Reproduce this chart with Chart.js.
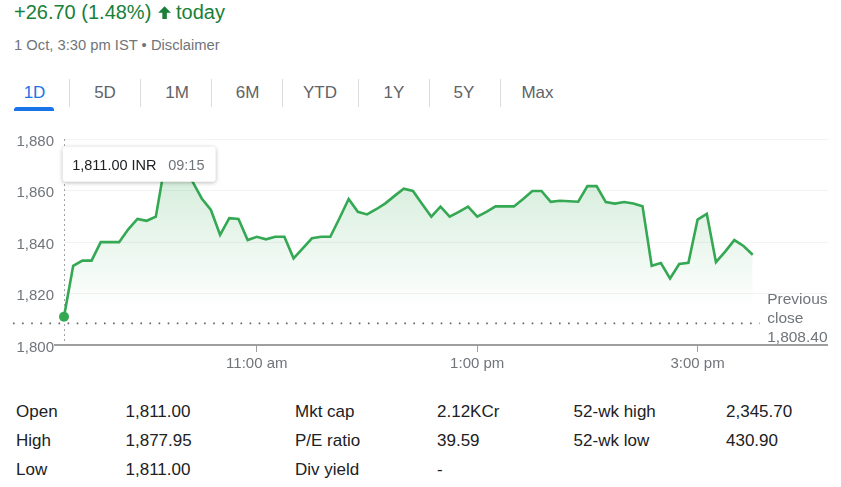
<!DOCTYPE html>
<html><head><meta charset="utf-8">
<script src="https://cdn.jsdelivr.net/npm/chart.js@4.4.1/dist/chart.umd.min.js"></script>
<style>
html,body{margin:0;padding:0;background:#fff;width:841px;height:487px;overflow:hidden;font-family:Arial,"Liberation Sans",sans-serif;}
.t{position:absolute;white-space:nowrap;line-height:1;}
.tab{position:absolute;white-space:nowrap;line-height:1;font-size:17px;color:#5f6368;transform:translateX(-50%);top:83.5px;}
.div{position:absolute;top:79px;width:1px;height:28px;background:#dadce0;}
.s{position:absolute;white-space:nowrap;line-height:1;font-size:17px;color:#202124;}
#wrap{position:absolute;left:0;top:120px;width:841px;height:265px;}
</style></head><body>
<div class="t" style="left:14px;top:2px;font-size:20px;color:#188038">+26.70 (1.48%)</div>
<svg style="position:absolute;left:154.5px;top:2.8px" width="19.2" height="19.2" viewBox="0 0 24 24"><path fill="#188038" d="M12 4l-8 8.2h5.2V20h5.6v-7.8H20z"/></svg>
<div class="t" style="left:176px;top:2px;font-size:20px;color:#188038">today</div>
<div class="t" style="left:14px;top:38.2px;font-size:14.75px;color:#70757a">1 Oct, 3:30 pm IST • Disclaimer</div>

<div class="tab" style="left:34.5px;color:#1a73e8">1D</div>
<div class="div" style="left:69px"></div>
<div class="tab" style="left:105px">5D</div>
<div class="div" style="left:140px"></div>
<div class="tab" style="left:177px">1M</div>
<div class="div" style="left:211px"></div>
<div class="tab" style="left:247.5px">6M</div>
<div class="div" style="left:282px"></div>
<div class="tab" style="left:320px">YTD</div>
<div class="div" style="left:358px"></div>
<div class="tab" style="left:394px">1Y</div>
<div class="div" style="left:429px"></div>
<div class="tab" style="left:464px">5Y</div>
<div class="div" style="left:500px"></div>
<div class="tab" style="left:537.5px">Max</div>
<div style="position:absolute;left:14px;top:107px;width:40px;height:4px;background:#1a73e8;border-radius:3px 3px 0 0"></div>

<div id="wrap"><canvas id="c" width="841" height="265"></canvas></div>

<div class="s" style="left:16px;top:402.9px">Open</div>
<div class="s" style="left:125.5px;top:402.9px">1,811.00</div>
<div class="s" style="left:295px;top:402.9px">Mkt cap</div>
<div class="s" style="left:437px;top:402.9px">2.12KCr</div>
<div class="s" style="left:573.6px;top:402.9px">52-wk high</div>
<div class="s" style="left:726px;top:402.9px">2,345.70</div>

<div class="s" style="left:16px;top:431.6px">High</div>
<div class="s" style="left:125.5px;top:431.6px">1,877.95</div>
<div class="s" style="left:295px;top:431.6px">P/E ratio</div>
<div class="s" style="left:437px;top:431.6px">39.59</div>
<div class="s" style="left:573.6px;top:431.6px">52-wk low</div>
<div class="s" style="left:726px;top:431.6px">430.90</div>

<div class="s" style="left:16px;top:460.6px">Low</div>
<div class="s" style="left:125.5px;top:460.6px">1,811.00</div>
<div class="s" style="left:295px;top:460.6px">Div yield</div>
<div class="s" style="left:437px;top:460.6px">-</div>

<script>
const times = ["09:15","09:20","09:25","09:30","09:35","09:40","09:45","09:50","09:55",
"10:00","10:05","10:10","10:15","10:20","10:25","10:30","10:35","10:40","10:45","10:50","10:55",
"11:00","11:05","11:10","11:15","11:20","11:25","11:30","11:35","11:40","11:45","11:50","11:55",
"12:00","12:05","12:10","12:15","12:20","12:25","12:30","12:35","12:40","12:45","12:50","12:55",
"13:00","13:05","13:10","13:15","13:20","13:25","13:30","13:35","13:40","13:45","13:50","13:55",
"14:00","14:05","14:10","14:15","14:20","14:25","14:30","14:35","14:40","14:45","14:50","14:55",
"15:00","15:05","15:10","15:15","15:20","15:25","15:30"];
const prices = [1811.0,1830.8,1832.8,1832.8,1840.0,1840.0,1840.0,1845.0,1849.0,
1848.3,1849.9,1870.5,1874.0,1871.0,1863.5,1857.0,1852.5,1842.8,1849.3,1849.0,1840.8,
1842.1,1841.1,1842.1,1842.1,1833.7,1837.6,1841.5,1842.1,1842.1,1849.3,1856.8,1851.8,
1850.8,1852.8,1855.1,1858.0,1860.8,1859.9,1854.8,1849.9,1853.8,1849.9,1851.8,1853.8,
1849.9,1851.8,1853.9,1853.9,1853.9,1856.8,1859.9,1859.9,1855.7,1856.1,1855.9,1855.7,
1861.8,1861.8,1855.6,1855.0,1855.6,1855.0,1854.0,1830.8,1831.9,1825.9,1831.5,1832.0,
1848.8,1851.0,1832.2,1836.3,1840.8,1838.5,1835.1];
const tickTimes = ["11:00","13:00","15:00"];
const tickLabels = ["11:00 am","1:00 pm","3:00 pm"];
const yTicks = [1800,1820,1840,1860,1880];
const prevClose = 1808.40;
const axisStart = "09:15";
const axisEnd = "16:11";
const closeTime = "15:30";

const toMin = t => { const [h,m] = t.split(':').map(Number); return h*60+m; };
const fmt = (v,d) => v.toLocaleString('en-US',{minimumFractionDigits:d,maximumFractionDigits:d});
const FONT = 'Arial, "Liberation Sans", sans-serif';
const GREEN = '#34a853';
const GREY = '#70757a';

const points = times.map((t,i)=>({x:toMin(t), y:prices[i]}));
const tickMins = tickTimes.map(toMin);

const overlay = {
  id:'overlay',
  beforeDatasetsDraw(chart){
    const {ctx, chartArea:a, scales:{x,y}} = chart;
    const p = chart.getDatasetMeta(0).data[0];
    ctx.save();
    ctx.strokeStyle='#80868b'; ctx.lineWidth=1; ctx.setLineDash([1.5,3.5]);
    const px = Math.round(p.x)+0.5;
    ctx.beginPath(); ctx.moveTo(px, a.top); ctx.lineTo(px, a.bottom); ctx.stroke();
    const py = y.getPixelForValue(prevClose);
    ctx.strokeStyle='#5f6368'; ctx.lineWidth=1.6; ctx.setLineDash([1.6,7.5]);
    ctx.beginPath(); ctx.moveTo(a.left-51, py); ctx.lineTo(x.getPixelForValue(toMin(closeTime))+7, py); ctx.stroke();
    ctx.setLineDash([]); ctx.strokeStyle='#9e9e9e'; ctx.lineWidth=2;
    ctx.beginPath(); ctx.moveTo(a.left-10, a.bottom); ctx.lineTo(a.right, a.bottom); ctx.stroke();
    ctx.restore();
  },
  afterDatasetsDraw(chart){
    const {ctx, chartArea:a, scales:{x,y}} = chart;
    const p = chart.getDatasetMeta(0).data[0];
    ctx.save();
    const py = y.getPixelForValue(prevClose);
    const lx = x.getPixelForValue(toMin(closeTime)) + 14.5;
    ctx.font = '15.5px ' + FONT; ctx.fillStyle = GREY; ctx.textBaseline='alphabetic'; ctx.textAlign='left';
    ctx.fillText('Previous', lx, py-19);
    ctx.fillText('close', lx, py-0.6);
    ctx.fillText(fmt(prevClose,2), lx, py+18.4);
    const bx = p.x - 1.3, by = a.top + 7.4, bw = 153, bh = 35;
    ctx.shadowColor='rgba(0,0,0,0.28)'; ctx.shadowBlur=4; ctx.shadowOffsetY=1;
    ctx.fillStyle='#fff';
    ctx.beginPath(); ctx.roundRect(bx, by, bw, bh, 3); ctx.fill();
    ctx.shadowColor='transparent';
    ctx.font='14.5px ' + FONT;
    ctx.fillStyle='#202124';
    ctx.fillText(fmt(prices[0],2)+' INR', bx+9.5, by+23.3);
    ctx.fillStyle=GREY;
    ctx.fillText(times[0], bx+105.5, by+23.3);
    ctx.restore();
  }
};

new Chart(document.getElementById('c'), {
  type:'line',
  data:{datasets:[{
    data: points,
    clip: false,
    borderColor: GREEN,
    borderWidth: 2.6,
    tension: 0,
    fill: 'start',
    backgroundColor: (ctx)=>{
      const {chart} = ctx; const a = chart.chartArea;
      if(!a) return 'rgba(52,168,83,0.15)';
      const ys = chart.scales.y;
      const g = chart.ctx.createLinearGradient(0, a.top, 0, ys.getPixelForValue(1814));
      g.addColorStop(0,'rgba(52,168,83,0.26)');
      g.addColorStop(1,'rgba(52,168,83,0)');
      return g;
    },
    pointRadius: (c)=> c.dataIndex===0 ? 5 : 0,
    pointHoverRadius: 0,
    pointBackgroundColor: GREEN,
    pointBorderWidth: 0
  }]},
  options:{
    responsive:false, animation:false, events:[],
    layout:{padding:{top:19.3, right:13, left:0, bottom:0}},
    plugins:{legend:{display:false}, tooltip:{enabled:false}},
    scales:{
      x:{
        type:'linear', min:toMin(axisStart), max:toMin(axisEnd),
        afterBuildTicks:(s)=>{ s.ticks = tickMins.map(v=>({value:v})); },
        afterFit:(s)=>{ s.height = 40; },
        ticks:{autoSkip:false, maxRotation:0, padding:3, color:GREY, font:{family:FONT,size:15},
          callback:(v)=> tickLabels[tickMins.indexOf(v)] },
        grid:{drawOnChartArea:false, drawTicks:true, tickLength:7, color:'#9e9e9e', lineWidth:1},
        border:{display:false}
      },
      y:{
        min:yTicks[0], max:yTicks[yTicks.length-1],
        afterBuildTicks:(s)=>{ s.ticks = yTicks.map(v=>({value:v})); },
        afterFit:(s)=>{ s.width = 64; },
        ticks:{padding:10, labelOffset:2.5, color:GREY, font:{family:FONT,size:15}, callback:(v)=>fmt(v,0)},
        grid:{color:'#f1f3f4', drawTicks:false, lineWidth:1},
        border:{display:false}
      }
    }
  },
  plugins:[overlay]
});
</script>
</body></html>
